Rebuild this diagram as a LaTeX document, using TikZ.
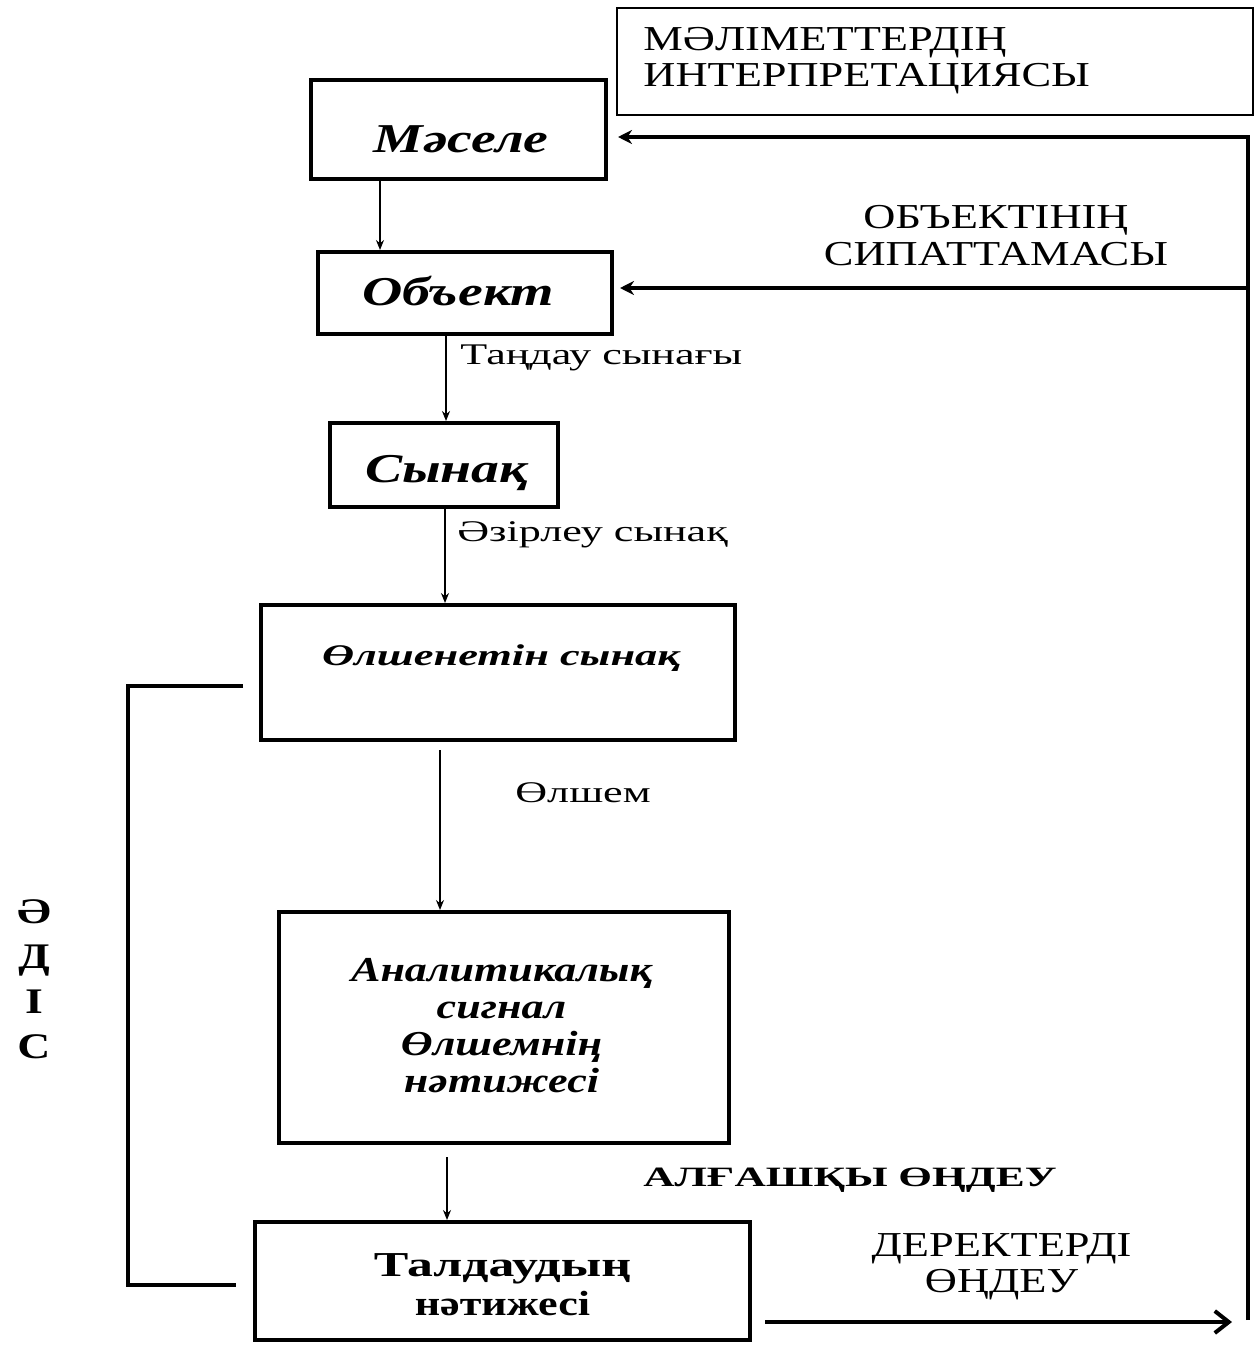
\documentclass[tikz,border=0pt]{standalone}
\usepackage{fontspec}
\setmainfont{Liberation Serif}
\newfontfamily\fbig[FakeStretch=1.36]{Liberation Serif}
\newfontfamily\fcaps[FakeStretch=1.27]{Liberation Serif}
\newfontfamily\flbl[FakeStretch=1.47]{Liberation Serif}
\newfontfamily\fboldw[FakeStretch=1.55]{Liberation Serif}
\newfontfamily\fmid[FakeStretch=1.26]{Liberation Serif}
\newfontfamily\fmidw[FakeStretch=1.48]{Liberation Serif}
\usetikzlibrary{arrows.meta}
\begin{document}
\begin{tikzpicture}[x=0.5pt,y=-0.5pt,
  box/.style={draw, line width=2pt, inner sep=0pt},
  bigtxt/.style={inner sep=0pt, anchor=base, font=\fbig\fontsize{20.5pt}{22pt}\selectfont\bfseries\itshape},
  lbl/.style={font=\flbl\fontsize{15pt}{18pt}\selectfont, inner sep=0pt, anchor=west},
  caps/.style={font=\fcaps\fontsize{17.5pt}{18pt}\selectfont, inner sep=0pt, align=center, anchor=north},
  thinarr/.style={line width=0.7pt, -{Stealth[length=5pt,width=4pt]}},
  fb/.style={line width=2pt, line join=miter},
]
\useasboundingbox (0,0) rectangle (1255,1348);
\fill[white] (0,0) rectangle (1255,1348);

% top info box
\node[draw, line width=0.8pt, minimum width=318pt, minimum height=53.5pt, inner sep=0pt] (info) at (935,61.5) {};
\node[caps, align=left, anchor=north west] (infotxt) at (643,27) {МӘЛІМЕТТЕРДІҢ\\ИНТЕРПРЕТАЦИЯСЫ};

% main boxes
\node[box, minimum width=147.5pt, minimum height=49.5pt] (mas) at (458.5,129.5) {};
\node[bigtxt] (mastxt) at (461,153) {Мәселе};
\node[box, minimum width=147pt, minimum height=41pt] (obj) at (465,293) {};
\node[bigtxt] (objtxt) at (458,305) {Объект};
\node[box, minimum width=114pt, minimum height=42pt] (syn) at (444,465) {};
\node[bigtxt] (syntxt) at (446.5,482) {Сынақ};
\node[box, minimum width=237pt, minimum height=67.5pt] (olsh) at (498,672.5) {};
\node[inner sep=0pt, anchor=base, font=\fmidw\fontsize{15pt}{18pt}\selectfont\bfseries\itshape] (olshtxt) at (501,665) {Өлшенетін сынақ};
\node[box, minimum width=225pt, minimum height=115.5pt] (anal) at (504,1027.5) {};
\node[inner sep=0pt, anchor=north, align=center, font=\fmid\fontsize{17.5pt}{18.5pt}\selectfont\bfseries\itshape] (analtxt) at (501.5,958) {Аналитикалық\\сигнал\\Өлшемнің\\нәтижесі};
\node[box, minimum width=247.5pt, minimum height=59pt] (tal) at (502.5,1281) {};
\node[inner sep=0pt, anchor=north, align=center, font=\fontsize{17.5pt}{19.5pt}\selectfont\bfseries] (taltxt) at (502.5,1253) {{\fmidw\bfseries Талдаудың}\\{\fmid\bfseries нәтижесі}};

% labels
\node[lbl] (l1) at (460,358) {Таңдау сынағы};
\node[lbl] (l2) at (457,535) {Әзірлеу сынақ};
\node[lbl] (l3) at (515,793) {Өлшем};
\node[caps, font=\fcaps\fontsize{17.5pt}{18.5pt}\selectfont] (l4) at (996,205) {ОБЪЕКТІНІҢ\\СИПАТТАМАСЫ};
\node[inner sep=0pt, anchor=base, font=\fboldw\fontsize{14pt}{16pt}\selectfont\bfseries] (l5) at (850,1186) {АЛҒАШҚЫ ӨҢДЕУ};
\node[caps] (l6) at (1001.5,1233) {ДЕРЕКТЕРДІ\\ӨҢДЕУ};
\node[font=\fcaps\fontsize{18pt}{22.5pt}\selectfont\bfseries, align=center, inner sep=0pt, anchor=north] (adis) at (34,899) {Ә\\Д\\І\\С};

% columns for vertical connectors
\coordinate (c1) at (380,0);
\coordinate (c2) at (446,0);
\coordinate (c3) at (445,0);
\coordinate (c4) at (440,0);
\coordinate (c5) at (447,0);

\draw[thinarr] (mas.south -| c1) -- (obj.north -| c1);
\draw[thinarr] (obj.south -| c2) -- (syn.north -| c2);
\draw[thinarr] (syn.south -| c3) -- (olsh.north -| c3);
\draw[thinarr, shorten <=4pt] (olsh.south -| c4) -- (anal.north -| c4);
\draw[thinarr, shorten <=6pt] (anal.south -| c5) -- (tal.north -| c5);

% feedback loop on the right
\coordinate (rt) at (1248,137);
\coordinate (ro) at (1248,288);
\coordinate (rb) at (1248,1320);
\coordinate (be) at (1232,1322);
\draw[fb, -{Stealth[length=7pt,width=7pt]}, shorten >=5pt] (rb) -- (rt) -- (mas.east |- rt);
\draw[fb, -{Stealth[length=7pt,width=7pt]}, shorten >=3pt] (ro) -- (obj.east |- ro);
\draw[fb, -{Straight Barb[length=7pt,width=11pt]}, shorten <=6.5pt] (tal.east |- be) -- (be);

% left bracket
\coordinate (lt) at (128,686);
\coordinate (lb) at (128,1285);
\draw[fb, shorten <=8pt, shorten >=8.5pt] (olsh.west |- lt) -- (lt) -- (lb) -- (tal.west |- lb);
\end{tikzpicture}
\end{document}
